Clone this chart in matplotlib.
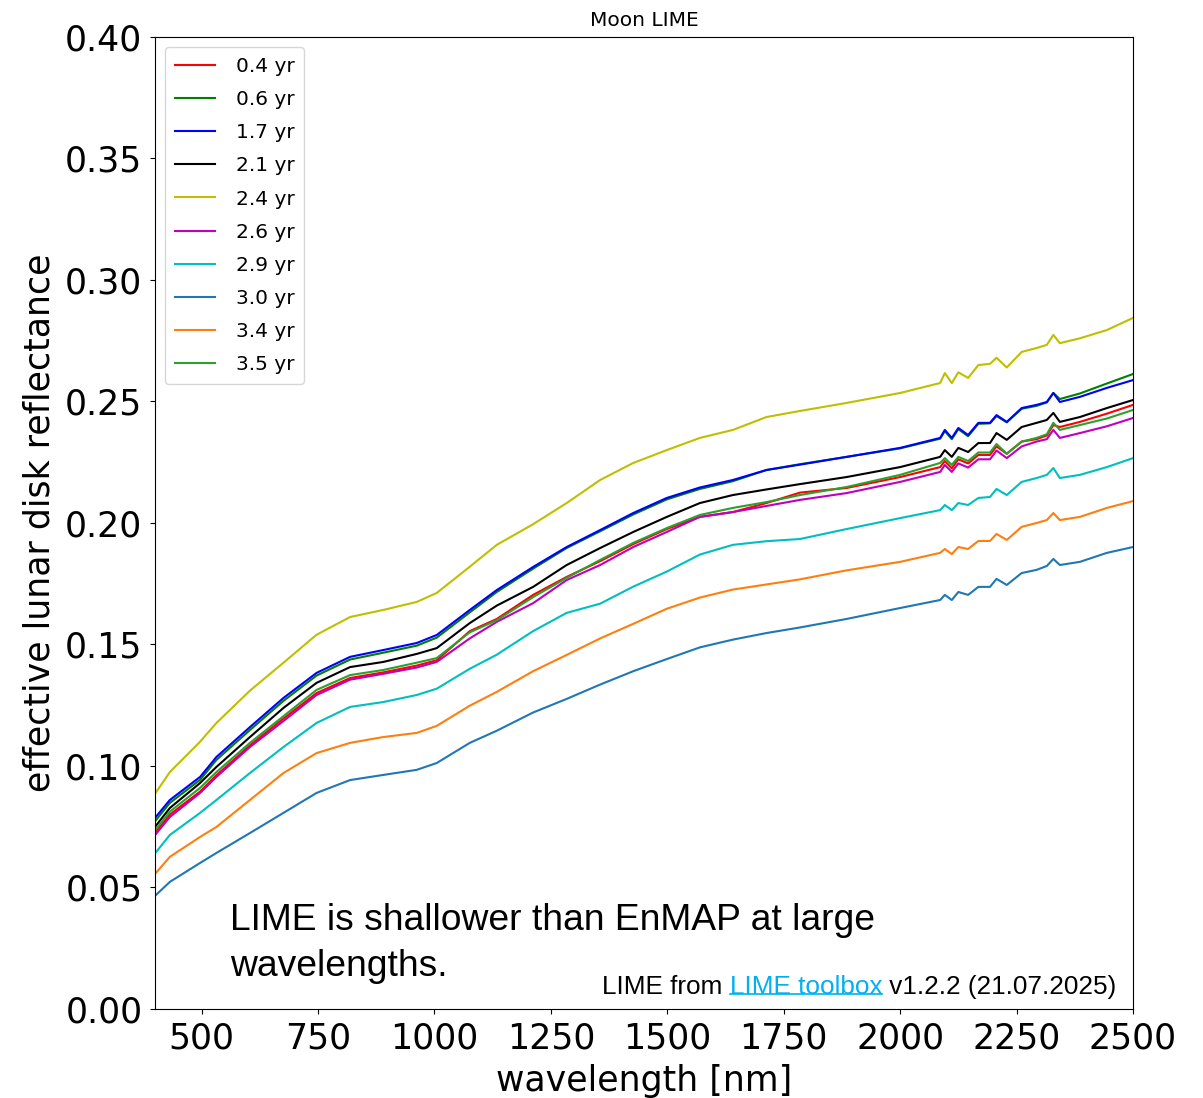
"""Moon LIME effective lunar disk reflectance vs wavelength, one line per age."""

import matplotlib
matplotlib.use("Agg")
import matplotlib.pyplot as plt
from matplotlib.lines import Line2D

wavelength = [400, 432, 497, 532, 604, 676, 747, 819, 890, 962, 1005, 1076, 1134,
              1212, 1284, 1356, 1427, 1499, 1570, 1641, 1713, 1785, 1885, 2000,
              2086, 2096, 2111, 2125, 2146, 2168, 2193, 2207, 2229, 2261, 2293,
              2315, 2329, 2343, 2386, 2444, 2500]

ages = ["0.4 yr", "0.6 yr", "1.7 yr", "2.1 yr", "2.4 yr",
        "2.6 yr", "2.9 yr", "3.0 yr", "3.4 yr", "3.5 yr"]
colors = ["r", "g", "b", "k", "y", "m", "c", "tab:blue", "tab:orange", "tab:green"]

refl_04 = [0.0725, 0.0800, 0.0895, 0.0962, 0.1085, 0.1195, 0.1300, 0.1362, 0.1385,
           0.1413, 0.1435, 0.1555, 0.1605, 0.1704, 0.1778, 0.1843, 0.1913, 0.1975,
           0.2025, 0.2045, 0.2082, 0.2125, 0.2144, 0.2189, 0.2230, 0.2255, 0.2225,
           0.2262, 0.2245, 0.2280, 0.2280, 0.2315, 0.2285, 0.2335, 0.2345, 0.2360,
           0.2403, 0.2395, 0.2416, 0.2450, 0.2486]
refl_06 = [0.0772, 0.0848, 0.0943, 0.1025, 0.1148, 0.1268, 0.1372, 0.1438, 0.1466,
           0.1495, 0.1528, 0.1632, 0.1716, 0.1812, 0.1897, 0.1966, 0.2035, 0.2097,
           0.2140, 0.2172, 0.2218, 0.2242, 0.2272, 0.2307, 0.2347, 0.2378, 0.2345,
           0.2386, 0.2357, 0.2408, 0.2410, 0.2440, 0.2414, 0.2470, 0.2482, 0.2496,
           0.2535, 0.2510, 0.2533, 0.2574, 0.2613]
refl_17 = [0.0786, 0.0860, 0.0955, 0.1037, 0.1160, 0.1280, 0.1383, 0.1449, 0.1477,
           0.1506, 0.1539, 0.1642, 0.1724, 0.1819, 0.1901, 0.1971, 0.2041, 0.2103,
           0.2146, 0.2177, 0.2218, 0.2240, 0.2272, 0.2309, 0.2350, 0.2383, 0.2350,
           0.2391, 0.2362, 0.2412, 0.2412, 0.2444, 0.2416, 0.2473, 0.2486, 0.2498,
           0.2535, 0.2498, 0.2519, 0.2556, 0.2588]
refl_21 = [0.0749, 0.0827, 0.0930, 0.0996, 0.1119, 0.1239, 0.1342, 0.1407, 0.1428,
           0.1461, 0.1485, 0.1588, 0.1660, 0.1737, 0.1827, 0.1897, 0.1963, 0.2025,
           0.2082, 0.2115, 0.2138, 0.2160, 0.2189, 0.2230, 0.2272, 0.2300, 0.2272,
           0.2309, 0.2292, 0.2329, 0.2329, 0.2370, 0.2342, 0.2395, 0.2412, 0.2424,
           0.2453, 0.2416, 0.2436, 0.2473, 0.2506]
refl_24 = [0.0885, 0.0975, 0.1100, 0.1177, 0.1310, 0.1425, 0.1540, 0.1613, 0.1642,
           0.1675, 0.1712, 0.1820, 0.1910, 0.1995, 0.2082, 0.2177, 0.2247, 0.2300,
           0.2350, 0.2383, 0.2436, 0.2461, 0.2494, 0.2535, 0.2576, 0.2617, 0.2576,
           0.2620, 0.2597, 0.2650, 0.2655, 0.2680, 0.2640, 0.2704, 0.2720, 0.2733,
           0.2774, 0.2740, 0.2760, 0.2794, 0.2844]
refl_26 = [0.0715, 0.0790, 0.0889, 0.0955, 0.1078, 0.1185, 0.1292, 0.1355, 0.1379,
           0.1405, 0.1428, 0.1525, 0.1593, 0.1670, 0.1765, 0.1827, 0.1901, 0.1963,
           0.2025, 0.2045, 0.2070, 0.2095, 0.2123, 0.2169, 0.2210, 0.2239, 0.2210,
           0.2245, 0.2228, 0.2262, 0.2262, 0.2298, 0.2267, 0.2315, 0.2335, 0.2345,
           0.2383, 0.2350, 0.2370, 0.2398, 0.2432]
refl_29 = [0.0640, 0.0716, 0.0807, 0.0860, 0.0971, 0.1078, 0.1177, 0.1243, 0.1263,
           0.1292, 0.1318, 0.1400, 0.1458, 0.1555, 0.1630, 0.1668, 0.1738, 0.1800,
           0.1870, 0.1910, 0.1925, 0.1934, 0.1975, 0.2020, 0.2053, 0.2074, 0.2053,
           0.2082, 0.2074, 0.2103, 0.2107, 0.2140, 0.2115, 0.2169, 0.2185, 0.2198,
           0.2226, 0.2185, 0.2198, 0.2230, 0.2267]
refl_30 = [0.0465, 0.0523, 0.0601, 0.0642, 0.0724, 0.0807, 0.0889, 0.0942, 0.0963,
           0.0984, 0.1012, 0.1095, 0.1145, 0.1220, 0.1276, 0.1335, 0.1390, 0.1440,
           0.1488, 0.1520, 0.1547, 0.1570, 0.1605, 0.1650, 0.1683, 0.1704, 0.1683,
           0.1716, 0.1704, 0.1737, 0.1737, 0.1770, 0.1745, 0.1794, 0.1807, 0.1823,
           0.1852, 0.1827, 0.1840, 0.1877, 0.1901]
refl_34 = [0.0555, 0.0626, 0.0708, 0.0749, 0.0860, 0.0971, 0.1053, 0.1095, 0.1119,
           0.1136, 0.1165, 0.1248, 0.1305, 0.1390, 0.1457, 0.1525, 0.1585, 0.1647,
           0.1693, 0.1726, 0.1747, 0.1768, 0.1805, 0.1840, 0.1877, 0.1893, 0.1872,
           0.1901, 0.1893, 0.1926, 0.1926, 0.1955, 0.1930, 0.1984, 0.2000, 0.2012,
           0.2041, 0.2012, 0.2025, 0.2062, 0.2090]
refl_35 = [0.0735, 0.0812, 0.0910, 0.0975, 0.1095, 0.1205, 0.1313, 0.1374, 0.1395,
           0.1425, 0.1444, 0.1550, 0.1600, 0.1695, 0.1774, 0.1848, 0.1918, 0.1979,
           0.2033, 0.2062, 0.2086, 0.2115, 0.2148, 0.2198, 0.2247, 0.2267, 0.2239,
           0.2272, 0.2255, 0.2290, 0.2290, 0.2325, 0.2285, 0.2335, 0.2350, 0.2365,
           0.2412, 0.2383, 0.2403, 0.2430, 0.2465]

series = [refl_04, refl_06, refl_17, refl_21, refl_24,
          refl_26, refl_29, refl_30, refl_34, refl_35]

fig = plt.figure(figsize=(12.03, 10.98), dpi=100)
ax = fig.add_axes([0.1288, 0.0811, 0.8130, 0.8852])

for vals, lab, col in zip(series, ages, colors):
    ax.plot(wavelength, vals, color=col, lw=1.5, label=lab)

ax.set_xlim(400, 2500)
ax.set_ylim(0, 0.4)
ax.set_xticks([500, 750, 1000, 1250, 1500, 1750, 2000, 2250, 2500])
ax.set_yticks([0, 0.05, 0.10, 0.15, 0.20, 0.25, 0.30, 0.35, 0.40])
ax.yaxis.set_major_formatter(plt.FormatStrFormatter("%.2f"))
ax.tick_params(labelsize=25, pad=5.5)
ax.set_xlabel("wavelength [nm]", fontsize=25, labelpad=6)
ax.set_ylabel("effective lunar disk reflectance", fontsize=25, labelpad=6)
ax.set_title("Moon LIME", fontsize=14.5, pad=8)
ax.legend(loc="upper left", fontsize=14.5, labelspacing=0.70,
          handletextpad=1.0, borderpad=0.5)

# the note, one text per line
note = dict(transform=ax.transAxes, family="Liberation Sans", fontsize=26.8,
            ha="left", va="baseline")
ax.text(0.0767, 0.0813, "LIME is shallower than EnMAP at large", **note)
ax.text(0.0767, 0.0340, "wavelengths.", **note)

# footnote: plain text + underlined link-coloured text + plain text
t1 = ax.text(0.457, 0.0154, "LIME from ", transform=ax.transAxes,
             family="Liberation Sans", fontsize=18.8, va="baseline")
t2 = ax.annotate("LIME toolbox", xy=(1, 0), xycoords=t1, xytext=(0, 0),
                 textcoords="offset points", family="Liberation Sans",
                 fontsize=18.8, color="#00b0f0", va="bottom")
t3 = ax.annotate(" v1.2.2 (21.07.2025)", xy=(1, 0), xycoords=t2, xytext=(0, 0),
                 textcoords="offset points", family="Liberation Sans",
                 fontsize=18.8, va="bottom")

fig.canvas.draw()
bb = t2.get_window_extent()
ul_y = bb.y0 + 0.2 * bb.height
fig.add_artist(Line2D([bb.x0, bb.x1], [ul_y, ul_y], color="#00b0f0", lw=1.2,
                      transform=None))

fig.savefig("out.png", dpi=100)
